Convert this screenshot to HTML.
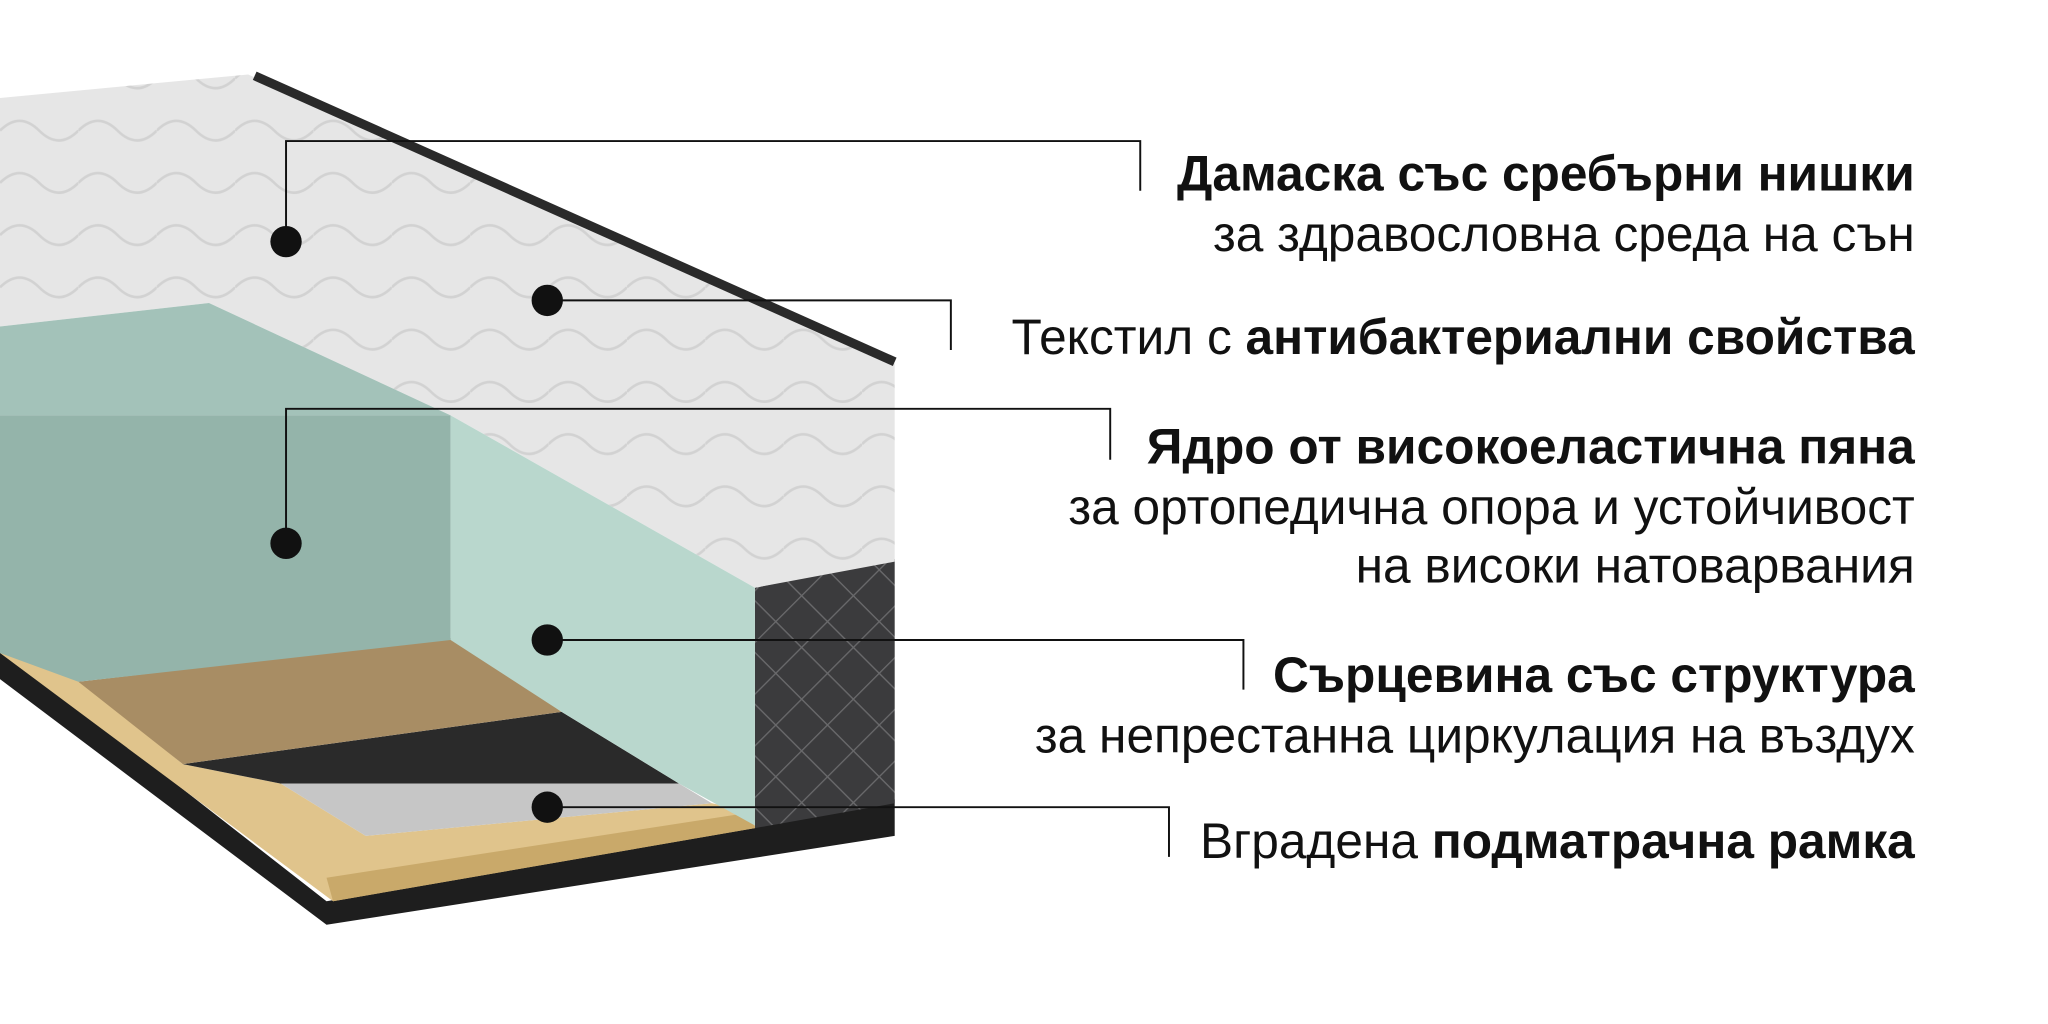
<!DOCTYPE html>
<html><head><meta charset="utf-8"><style>
html,body{margin:0;padding:0;background:#fff;}
svg{display:block;}
text{font-family:"Liberation Sans","DejaVu Sans",sans-serif;font-size:38px;fill:#111;}
.b{font-weight:bold;}
</style></head><body>
<svg width="2048" height="1024" viewBox="0 0 1568 784" xmlns="http://www.w3.org/2000/svg">
<defs>
<pattern id="q" width="28" height="28" patternUnits="userSpaceOnUse" patternTransform="rotate(45)">
<rect width="28" height="28" fill="#3b3b3d"/>
<path d="M0 0H28M0 0V28" stroke="#6a6a6c" stroke-width="2"/>
</pattern>
<pattern id="t" width="60" height="40" patternUnits="userSpaceOnUse">
<rect width="60" height="40" fill="#e6e6e6"/>
<path d="M0 20 Q15 5 30 20 T60 20" stroke="#d2d2d2" stroke-width="2" fill="none"/>
</pattern>
</defs>
<rect width="1568" height="784" fill="#fff"/>
<polygon points="0,495 250,690 578,632 685,612 685,640 250,708 0,520" fill="#1e1e1e"/>
<polygon points="578,450 685,428 685,615 578,634" fill="url(#q)"/>
<polygon points="0,480 60,520 140,585 215,600 280,640 545,615 578,622 578,634 255,690 0,500" fill="#e0c48c"/>
<polygon points="250,672 575,622 578,634 255,690" fill="#c9a96a"/>
<polygon points="140,585 430,545 520,600 215,600" fill="#2a2a2a"/>
<polygon points="215,600 520,600 545,615 280,640" fill="#c6c6c6"/>
<polygon points="60,522 350,488 430,545 140,585" fill="#a88d64"/>
<polygon points="0,75 190,57 685,278 685,430 578,450 345,318 160,232 0,250" fill="url(#t)"/>
<line x1="195" y1="58" x2="685" y2="277" stroke="#2a2a2a" stroke-width="7"/>
<polygon points="0,250 160,232 345,318 0,318" fill="#a3c2b9"/>
<polygon points="0,318 345,318 345,490 60,522 0,500" fill="#94b4aa"/>
<polygon points="345,318 578,450 578,632 520,600 430,545 345,490" fill="#b9d7cd"/>
<g stroke="#111" stroke-width="1.5" fill="none">
<polyline points="219,185 219,108 873,108 873,146"/>
<polyline points="419,230 728,230 728,268"/>
<polyline points="219,416 219,313 850,313 850,352"/>
<polyline points="419,490 952,490 952,528"/>
<polyline points="419,618 895,618 895,656"/>
</g>
<g fill="#111">
<circle cx="219" cy="185" r="12"/><circle cx="419" cy="230" r="12"/>
<circle cx="219" cy="416" r="12"/><circle cx="419" cy="490" r="12"/>
<circle cx="419" cy="618" r="12"/>
</g>
<g text-anchor="end">
<text x="1466" y="146" class="b">Дамаска със сребърни нишки</text>
<text x="1466" y="192">за здравословна среда на сън</text>
<text x="1466" y="271">Текстил с <tspan class="b">антибактериални свойства</tspan></text>
<text x="1466" y="355" class="b">Ядро от високоеластична пяна</text>
<text x="1466" y="401">за ортопедична опора и устойчивост</text>
<text x="1466" y="446">на високи натоварвания</text>
<text x="1466" y="530" class="b">Сърцевина със структура</text>
<text x="1466" y="576">за непрестанна циркулация на въздух</text>
<text x="1466" y="657">Вградена <tspan class="b">подматрачна рамка</tspan></text>
</g>
</svg>
</body></html>
